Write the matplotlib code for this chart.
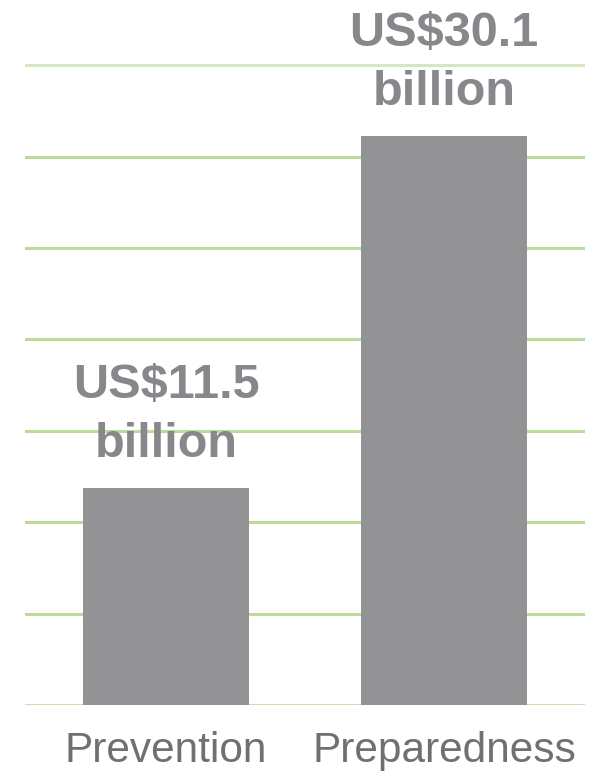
import numpy as np
import matplotlib.pyplot as plt

# values in US$ billion
categories = ['Prevention', 'Preparedness']
values = [11.5, 30.1]
labels = ['US$11.5\nbillion', 'US$30.1\nbillion']

plt.rcParams['font.family'] = ['Liberation Sans', 'DejaVu Sans']

fig = plt.figure(figsize=(5.96, 7.72), dpi=100)
ax = fig.add_axes([25 / 596, 67 / 772, 560 / 596, 705 / 772])

x = np.arange(len(categories))
bars = ax.bar(x, values, width=0.6, color='#939395', zorder=2)

ax.set_xlim(-0.508, 1.508)
ax.set_ylim(0, 37.3)

# light green horizontal rules
step = 4.836
ax.set_yticks(np.arange(8) * step)
ax.yaxis.grid(True, color='#b9dc9a', linewidth=2.2, zorder=0)
ax.set_axisbelow(True)
gl = ax.get_ygridlines()
gl[0].set_color('#c6e2b0')
gl[-1].set_color('#d3e8c2')
ax.tick_params(axis='y', length=0, labelleft=False)

ax.set_xticks(x)
ax.set_xticklabels(categories, fontsize=30.5, color='#707072')
ax.tick_params(axis='x', length=0, pad=19)

for s in ax.spines.values():
    s.set_visible(False)

for b, lab in zip(bars, labels):
    ax.annotate(lab, (b.get_x() + b.get_width() / 2, b.get_height()),
                xytext=(0, 15), textcoords='offset points',
                ha='center', va='bottom', fontsize=35, fontweight='bold',
                color='#87878c', linespacing=1.4)

fig.savefig('out.png', dpi=100)
